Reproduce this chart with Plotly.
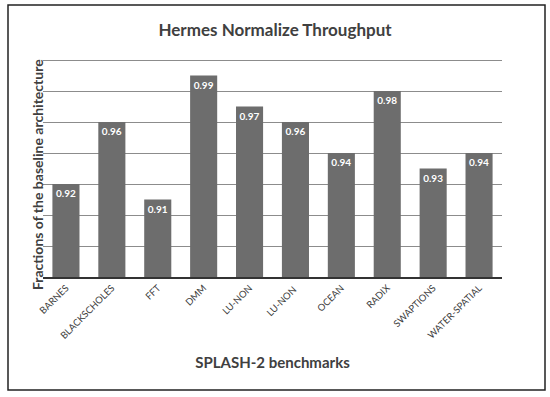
import plotly.graph_objects as go

categories = ["BARNES", "BLACKSCHOLES", "FFT", "DMM", "LU-NON", "LU-NON ", "OCEAN", "RADIX", "SWAPTIONS", "WATER-SPATIAL"]
values = [0.92, 0.96, 0.91, 0.99, 0.97, 0.96, 0.94, 0.98, 0.93, 0.94]
labels = ["<b>0.92</b>", "<b>0.96</b>", "<b>0.91</b>", "<b>0.99</b>", "<b>0.97</b>",
          "<b>0.96</b>", "<b>0.94</b>", "<b>0.98</b>", "<b>0.93</b>", "<b>0.94</b>"]
grid_values = [0.88, 0.90, 0.92, 0.94, 0.96, 0.98, 1.00]

FONT = "Lato, 'Open Sans', sans-serif"

fig = go.Figure(go.Bar(
    x=categories, y=values, text=labels,
    textposition="inside", insidetextanchor="end",
    textfont=dict(color="white", size=10, family=FONT),
    marker=dict(color="#6d6d6d", line=dict(width=0)),
    cliponaxis=False,
))

L, R, T, B = 43, 48, 57, 120
W, H = 550, 397
pw, ph = W - L - R, H - T - B

def px_x(p):
    return (p - L) / pw

def px_y(p):
    return (H - B - p) / ph

fig.update_layout(
    width=W, height=H,
    margin=dict(l=L, r=R, t=T, b=B, autoexpand=False),
    paper_bgcolor="white", plot_bgcolor="white",
    bargap=0.41,
    showlegend=False,
    title=dict(text="<b>Hermes Normalize Throughput</b>", x=0.5, xanchor="center",
               y=1 - 30 / H, yanchor="middle",
               font=dict(size=17, color="#404040", family=FONT)),
    font=dict(family=FONT, color="#404040"),
    xaxis=dict(
        automargin=False,
        tickangle=-45, tickfont=dict(size=9.5, color="#404040"),
        showline=True, linecolor="#333333", linewidth=1.5,
        ticks="", showgrid=False,
        title=dict(text="<b>SPLASH-2 benchmarks</b>", font=dict(size=15, color="#404040"), standoff=18),
    ),
    yaxis=dict(
        automargin=False,
        range=[0.86, 1.002], tickmode="array", tickvals=grid_values,
        showticklabels=False, ticks="",
        showgrid=True, gridcolor="#8c8c8c", gridwidth=1.2,
        zeroline=False, showline=False,
    ),
    annotations=[dict(text="<b>Fractions of the baseline architecture</b>",
                      xref="paper", yref="paper", x=px_x(37), y=px_y(175),
                      xanchor="center", yanchor="middle", textangle=-90, showarrow=False,
                      font=dict(size=14, color="#404040", family=FONT))],
    shapes=[dict(type="rect", xref="paper", yref="paper",
                 x0=px_x(8), x1=px_x(545), y0=px_y(390), y1=px_y(5),
                 line=dict(color="#222222", width=1.5), layer="below")],
)

fig.write_html("out.html", config={"displayModeBar": False},
               post_script="document.body.style.margin='0px';")
